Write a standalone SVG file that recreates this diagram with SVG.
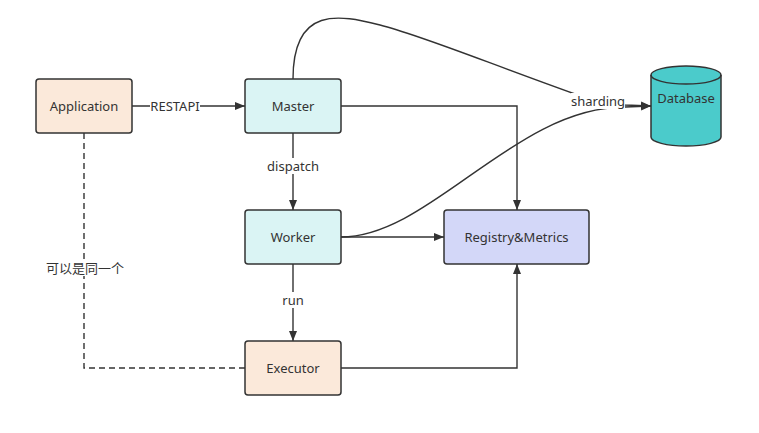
<svg xmlns="http://www.w3.org/2000/svg" width="759" height="433" viewBox="0 0 759 433">
<defs>
<marker id="arr" viewBox="0 0 10 10" refX="10" refY="5" markerWidth="10" markerHeight="10" markerUnits="userSpaceOnUse" orient="auto">
<path d="M0,1 L10,5 L0,9 Z" fill="#333"/>
</marker>
<style>
.box{stroke:#333;stroke-width:1.5}
.t{font-family:"Noto Sans","Noto Sans CJK SC",sans-serif;font-size:13px;fill:#333;text-anchor:middle;dominant-baseline:central}
.e{fill:none;stroke:#333;stroke-width:1.4}
.lbl{fill:#fff}
</style>
</defs>
<rect width="759" height="433" fill="#fff"/>
<g id="connectors">
<path class="e" d="M132,106 L245,106" marker-end="url(#arr)"/>
<path class="e" d="M293,133 L293,210" marker-end="url(#arr)"/>
<path class="e" d="M293,264 L293,341" marker-end="url(#arr)"/>
<path class="e" d="M341,106 L517,106 L517,210" marker-end="url(#arr)"/>
<path class="e" d="M341,237 L444,237" marker-end="url(#arr)"/>
<path class="e" d="M341,368 L517,368 L517,264" marker-end="url(#arr)"/>
<path class="e" d="M84,133 L84,368 L245,368" stroke-dasharray="6,4"/>
<path class="e" d="M293,79 C293,5 340,15 380,25 C420,35 480,60 575,94 L625,105 L651,106" marker-end="url(#arr)"/>
<path class="e" d="M341,237 C430,237 515,107 625,107 L651,106" marker-end="url(#arr)"/>
<rect class="lbl" x="150" y="98" width="50" height="16"/>
<text class="t" x="175" y="106">RESTAPI</text>
<rect class="lbl" x="267" y="158" width="52" height="16"/>
<text class="t" x="293" y="166">dispatch</text>
<rect class="lbl" x="282" y="292" width="22" height="16"/>
<text class="t" x="293" y="300">run</text>
<rect class="lbl" x="45" y="260" width="80" height="16"/>
<text class="t" x="85" y="268">可以是同一个</text>
<rect class="lbl" x="571" y="93" width="54" height="16"/>
<text class="t" x="598" y="101">sharding</text>
</g>
<g id="application">
<rect class="box" x="36" y="79" width="96" height="54" rx="3" fill="#fbe9da"/>
<text class="t" x="84" y="106">Application</text>
</g>
<g id="master">
<rect class="box" x="245" y="79" width="96" height="54" rx="3" fill="#daf4f4"/>
<text class="t" x="293" y="106">Master</text>
</g>
<g id="worker">
<rect class="box" x="245" y="210" width="96" height="54" rx="3" fill="#daf4f4"/>
<text class="t" x="293" y="237">Worker</text>
</g>
<g id="registry">
<rect class="box" x="444" y="210" width="145" height="54" rx="3" fill="#d3d7f8"/>
<text class="t" x="516.5" y="237">Registry&amp;Metrics</text>
</g>
<g id="executor">
<rect class="box" x="245" y="341" width="96" height="54" rx="3" fill="#fbe9da"/>
<text class="t" x="293" y="368">Executor</text>
</g>
<g id="database">
<path class="box" d="M651,75 L651,137 A35,9 0 0 0 721,137 L721,75 A35,9 0 0 0 651,75 Z" fill="#4bcbcb"/>
<path class="box" d="M651,75 A35,9 0 0 0 721,75" fill="none"/>
<text class="t" x="686" y="98">Database</text>
</g>
</svg>
